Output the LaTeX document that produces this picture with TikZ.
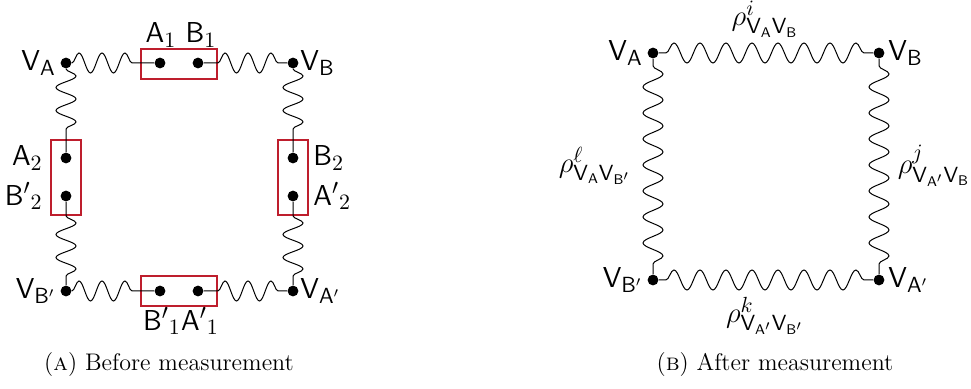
\documentclass[tikz,border=0pt,12pt]{standalone}
\usetikzlibrary{decorations.pathmorphing}
\definecolor{boxred}{RGB}{190,30,45}
\newcommand{\vtx}[1]{\mathsf{V}_{\mathsf{#1}}}
\begin{document}
\begin{tikzpicture}[x=0.5pt,y=-0.5pt,
  dotnode/.style={circle,fill=black,inner sep=0pt,minimum size=5.4pt},
  lbl/.style={inner sep=1pt,font=\fontsize{15}{18}\selectfont},
  redbox/.style={draw=boxred,line width=1pt},
  wigL/.style={decorate,line width=0.5pt,decoration={snake,amplitude=5pt,segment length=11.5pt}},
  wigR/.style={decorate,line width=0.5pt,decoration={snake,amplitude=5pt,segment length=13pt,pre length=3.5pt}},
  captext/.style={font=\normalsize}]
\useasboundingbox (0,0) rectangle (971,389);
% ---------------- left diagram ----------------
\draw[redbox] (141,49) rectangle (217,79);
\draw[redbox] (51,140) rectangle (81,215);
\draw[redbox] (278,140) rectangle (308,215);
\draw[redbox] (141,276) rectangle (217,306);
\node[dotnode] (LVA) at (66,63) {};
\node[dotnode] (LVB) at (293,63) {};
\node[dotnode] (LVBp) at (66,291) {};
\node[dotnode] (LVAp) at (293,291) {};
\node[dotnode] (A1) at (160,63) {};
\node[dotnode] (B1) at (198,63) {};
\node[dotnode] (A2) at (66,158) {};
\node[dotnode] (B2p) at (66,196) {};
\node[dotnode] (B2) at (293,158) {};
\node[dotnode] (A2p) at (293,196) {};
\node[dotnode] (B1p) at (160,291) {};
\node[dotnode] (A1p) at (198,291) {};
\draw[wigL,decoration={post length=7pt}] (LVA) -- (A1);
\draw[wigL,decoration={pre length=7pt}] (B1) -- (LVB);
\draw[wigL,decoration={post length=7pt}] (LVA) -- (A2);
\draw[wigL,decoration={pre length=7pt}] (B2p) -- (LVBp);
\draw[wigL,decoration={post length=7pt}] (LVB) -- (B2);
\draw[wigL,decoration={pre length=7pt}] (A2p) -- (LVAp);
\draw[wigL,decoration={post length=7pt}] (LVBp) -- (B1p);
\draw[wigL,decoration={pre length=7pt}] (A1p) -- (LVAp);
\node[lbl,anchor=east] (tLVA) at (58,63) {$\vtx{A}$};
\node[lbl,anchor=west] (tLVB) at (298,63) {$\vtx{B}$};
\node[lbl,anchor=east] (tLVBp) at (58,291) {$\vtx{B'}$};
\node[lbl,anchor=west] (tLVAp) at (298,291) {$\vtx{A'}$};
\node[lbl] (tA1) at (161,35) {$\mathsf{A}_1$};
\node[lbl] (tB1) at (201,35) {$\mathsf{B}_1$};
\node[lbl,anchor=east] (tA2) at (45,158) {$\mathsf{A}_2$};
\node[lbl,anchor=east] (tB2p) at (45,196) {${\mathsf{B'}}_2$};
\node[lbl,anchor=west] (tB2) at (311,158) {$\mathsf{B}_2$};
\node[lbl,anchor=west] (tA2p) at (311,196) {${\mathsf{A'}}_2$};
\node[lbl] (tB1p) at (162,321) {${\mathsf{B'}}_1$};
\node[lbl] (tA1p) at (200,321) {${\mathsf{A'}}_1$};
\node[captext] (capA) at (169,365) {(\textsc{a})\ Before measurement};
% ---------------- right diagram ----------------
\node[dotnode] (RVA) at (653,53) {};
\node[dotnode] (RVB) at (879,53) {};
\node[dotnode] (RVBp) at (653,280) {};
\node[dotnode] (RVAp) at (879,280) {};
\draw[wigR] (RVA) -- (RVB);
\draw[wigR] (RVA) -- (RVBp);
\draw[wigR] (RVB) -- (RVAp);
\draw[wigR] (RVBp) -- (RVAp);
\node[lbl,anchor=east] (tRVA) at (645,53) {$\vtx{A}$};
\node[lbl,anchor=west] (tRVB) at (886,53) {$\vtx{B}$};
\node[lbl,anchor=east] (tRVBp) at (645,280) {$\vtx{B'}$};
\node[lbl,anchor=west] (tRVAp) at (886,280) {$\vtx{A'}$};
\node[lbl] (rhoi) at (765,19) {$\rho^{i}_{\vtx{A}\vtx{B}}$};
\node[lbl] (rhol) at (595,166) {$\rho^{\ell}_{\vtx{A}\vtx{B'}}$};
\node[lbl] (rhoj) at (934,166) {$\rho^{j}_{\vtx{A'}\vtx{B}}$};
\node[lbl] (rhok) at (765,316) {$\rho^{k}_{\vtx{A'}\vtx{B'}}$};
\node[captext] (capB) at (775,365) {(\textsc{b})\ After measurement};
\end{tikzpicture}
\end{document}
